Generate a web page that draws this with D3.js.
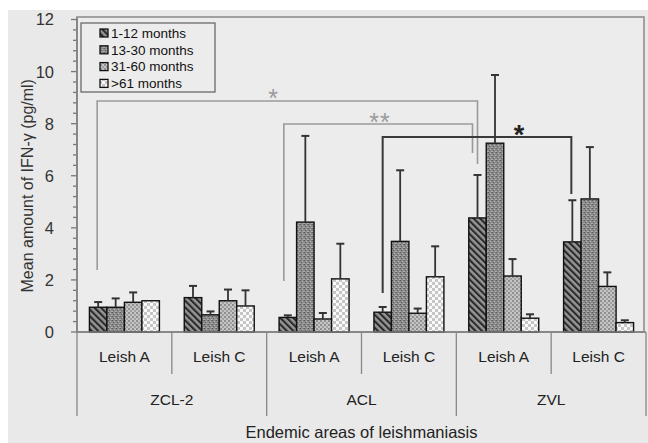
<!DOCTYPE html>
<html><head><meta charset="utf-8">
<script src="https://cdn.jsdelivr.net/npm/d3@7"></script>
<style>body{margin:0;background:#fff}svg{display:block;font-family:"Liberation Sans",Arial,sans-serif}</style>
</head><body><svg id="c" width="648" height="443"></svg>
<script>
const groups = ["ZCL-2","ACL","ZVL"];
const antigens = ["Leish A","Leish C"];
const series = ["1-12 months","13-30 months","31-60 months",">61 months"];
// means per subgroup (ZCL-2 A, ZCL-2 C, ACL A, ACL C, ZVL A, ZVL C) for each series
const means = [
  [0.95, 1.32, 0.56, 0.76, 4.38, 3.46],
  [0.95, 0.66, 4.22, 3.48, 7.25, 5.11],
  [1.14, 1.20, 0.50, 0.72, 2.15, 1.75],
  [1.20, 1.00, 2.04, 2.12, 0.53, 0.36]
];
const errTops = [
  [1.15, 1.77, 0.64, 0.96, 6.03, 5.06],
  [1.29, 0.79, 7.53, 6.21, 9.87, 7.10],
  [1.52, 1.63, 0.73, 0.90, 2.80, 2.29],
  [1.20, 1.60, 3.39, 3.29, 0.68, 0.45]
];
const yTicks = [0,2,4,6,8,10,12];
// significance brackets: from subgroup a (series 0) to subgroup b (series 0)
const brackets = [
  {a:0, b:4, top:8.87, yA:2.38, yB:6.45, dxA:-1, dxB:0, label:"*", color:"#9a9a9a", w:1.6, lx:273, ly:93, big:false},
  {a:2, b:4, top:7.99, yA:1.96, yB:6.87, dxA:-4, dxB:-5, label:"**", color:"#9a9a9a", w:1.6, lx:380, ly:117, big:false},
  {a:3, b:5, top:7.49, yA:1.50, yB:5.30, dxA:0, dxB:-1, label:"*", color:"#3a3a3a", w:2, lx:519, ly:129, big:true}
];

const svg = d3.select("#c");
const X0 = 77, X1 = 646, Y0 = 332, Y1 = 19.5;
const subs = [];
groups.forEach(g => antigens.forEach(a => subs.push(g + "|" + a)));

// background
svg.append("rect").attr("width",648).attr("height",443).attr("fill","#fff");
svg.append("rect").attr("x",8).attr("y",10).attr("width",640).attr("height",433).attr("fill","#e9e9e9");
svg.append("rect").attr("x",X0).attr("y",17).attr("width",644-X0).attr("height",Y0-17)
  .attr("fill","#ececec").attr("stroke","#9a9a9a").attr("stroke-width",1.8);

const y = d3.scaleLinear().domain([0,12]).range([Y0,Y1]);
const xs = d3.scaleBand().domain(subs).range([X0,X1]).paddingInner(0).paddingOuter(0);
const xb = d3.scaleBand().domain(d3.range(4)).range([0,xs.bandwidth()]).paddingInner(0).paddingOuter(0.71);

// patterns
const defs = svg.append("defs");
const p1 = defs.append("pattern").attr("id","p0").attr("patternUnits","userSpaceOnUse")
  .attr("width",4.6).attr("height",4.6).attr("patternTransform","rotate(-45)");
p1.append("rect").attr("width",4.6).attr("height",4.6).attr("fill","#959595");
p1.append("rect").attr("width",2.1).attr("height",4.6).attr("fill","#2a2a2a");
const p2 = defs.append("pattern").attr("id","p1").attr("patternUnits","userSpaceOnUse").attr("width",4).attr("height",4);
p2.append("rect").attr("width",4).attr("height",4).attr("fill","#8a8a8a");
[[0,0,"#5a5a5a"],[2,1,"#b4b4b4"],[1,2,"#666"],[3,3,"#b0b0b0"],[3,0,"#777"],[0,3,"#a8a8a8"]].forEach(d=>
  p2.append("rect").attr("x",d[0]).attr("y",d[1]).attr("width",1).attr("height",1).attr("fill",d[2]));
const p3 = defs.append("pattern").attr("id","p2").attr("patternUnits","userSpaceOnUse").attr("width",4).attr("height",4);
p3.append("rect").attr("width",4).attr("height",4).attr("fill","#c4c4c4");
p3.append("rect").attr("x",0).attr("y",0).attr("width",2).attr("height",2).attr("fill","#8f8f8f");
p3.append("rect").attr("x",2).attr("y",2).attr("width",2).attr("height",2).attr("fill","#a0a0a0");
const p4 = defs.append("pattern").attr("id","p3").attr("patternUnits","userSpaceOnUse").attr("width",6).attr("height",6);
p4.append("rect").attr("width",6).attr("height",6).attr("fill","#fafafa");
p4.append("rect").attr("x",0).attr("y",0).attr("width",3).attr("height",3).attr("fill","#c6c6c6");
p4.append("rect").attr("x",3).attr("y",3).attr("width",3).attr("height",3).attr("fill","#c6c6c6");

// y axis ticks
const minor = d3.range(0, 12.001, 0.4);
svg.append("g").selectAll("line").data(minor).join("line")
  .attr("x1", d => Math.abs(d/2 - Math.round(d/2)) < 1e-6 ? X0-6 : X0-4).attr("x2",X0)
  .attr("y1", d=>y(d)).attr("y2", d=>y(d)).attr("stroke","#777").attr("stroke-width",1.3);
svg.append("line").attr("x1",X0).attr("x2",X0).attr("y1",Y1-2).attr("y2",Y0).attr("stroke","#808080").attr("stroke-width",1.5);
svg.append("g").selectAll("text").data(yTicks).join("text")
  .attr("x",54).attr("y",d=>y(d)).attr("dy","0.36em").attr("text-anchor","end")
  .attr("font-size",16.5).attr("fill","#333").text(d=>d);
svg.append("text").attr("transform",`translate(33,${(Y0+Y1)/2+10}) rotate(-90)`)
  .attr("text-anchor","middle").attr("font-size",16).attr("fill","#333")
  .text("Mean amount of IFN-\u03b3 (pg/ml)");

// brackets (behind bars)
const bx = (i,dx) => xs(subs[i]) + xb(0) + xb.bandwidth()/2 + dx;
const bg = svg.append("g");
brackets.forEach(b => {
  bg.append("path").attr("fill","none").attr("stroke",b.color).attr("stroke-width",b.w)
    .attr("d",`M${bx(b.a,b.dxA)},${y(b.yA)}V${y(b.top)}H${bx(b.b,b.dxB)}V${y(b.yB)}`);
  const fs = b.big ? 27 : 25;
  bg.append("text").attr("x",b.lx).attr("y",b.ly + fs*0.56).attr("text-anchor","middle")
    .attr("font-size",fs).attr("font-weight",b.big?"bold":"normal")
    .attr("letter-spacing", b.label.length > 1 ? 1 : 0)
    .attr("fill",b.big?"#222":"#9a9a9a").text(b.label);
});

// bars
series.forEach((s,si) => {
  const g = svg.append("g");
  g.selectAll("rect").data(means[si]).join("rect")
    .attr("x",(d,i)=>xs(subs[i])+xb(si)).attr("width",xb.bandwidth())
    .attr("y",d=>y(d)).attr("height",d=>Y0-y(d))
    .attr("fill",`url(#p${si})`).attr("stroke","#111").attr("stroke-width",1.4);
  errTops[si].forEach((e,i) => {
    if (e - means[si][i] < 0.03) return;
    const cx = xs(subs[i])+xb(si)+xb.bandwidth()/2;
    g.append("line").attr("x1",cx).attr("x2",cx).attr("y1",y(means[si][i])).attr("y2",y(e))
      .attr("stroke","#333").attr("stroke-width",1.8);
    g.append("line").attr("x1",cx-4).attr("x2",cx+4).attr("y1",y(e)).attr("y2",y(e))
      .attr("stroke","#333").attr("stroke-width",2);
  });
});

// x axis
svg.append("line").attr("x1",X0).attr("x2",X1).attr("y1",Y0).attr("y2",Y0).attr("stroke","#808080").attr("stroke-width",1.5);
const xg = d3.scaleBand().domain(groups).range([X0,X1]);
subs.forEach((s,i) => {
  if (i % 2 === 1) svg.append("line").attr("x1",xs(s)).attr("x2",xs(s)).attr("y1",Y0).attr("y2",374)
    .attr("stroke","#888").attr("stroke-width",1.3);
  svg.append("text").attr("x",xs(s)+xs.bandwidth()/2).attr("y",362).attr("text-anchor","middle")
    .attr("font-size",15.5).attr("fill","#222").text(s.split("|")[1]);
});
groups.concat([null]).forEach((g,i) => {
  const xx = g ? xg(g) : X1;
  svg.append("line").attr("x1",xx).attr("x2",xx).attr("y1",Y0).attr("y2",416).attr("stroke","#888").attr("stroke-width",1.3);
  if (g) svg.append("text").attr("x",xg(g)+xg.bandwidth()/2).attr("y",405).attr("text-anchor","middle")
    .attr("font-size",15.5).attr("fill","#222").text(g);
});
svg.append("text").attr("x",(X0+X1)/2).attr("y",438).attr("text-anchor","middle")
  .attr("font-size",16.5).attr("fill","#222").text("Endemic areas of leishmaniasis");

// legend
const lg = svg.append("g");
lg.append("rect").attr("x",81).attr("y",23).attr("width",134).attr("height",69)
  .attr("fill","#ececec").attr("stroke","#6a6a6a").attr("stroke-width",1.3);
series.forEach((s,i) => {
  const yy = 33 + i*16.8;
  lg.append("rect").attr("x",100).attr("y",yy-4).attr("width",8).attr("height",8)
    .attr("fill",`url(#p${i})`).attr("stroke","#111").attr("stroke-width",1.3);
  lg.append("text").attr("x",111).attr("y",yy).attr("dy","0.36em").attr("font-size",13.5)
    .attr("fill","#111").text(s);
});
</script></body></html>
